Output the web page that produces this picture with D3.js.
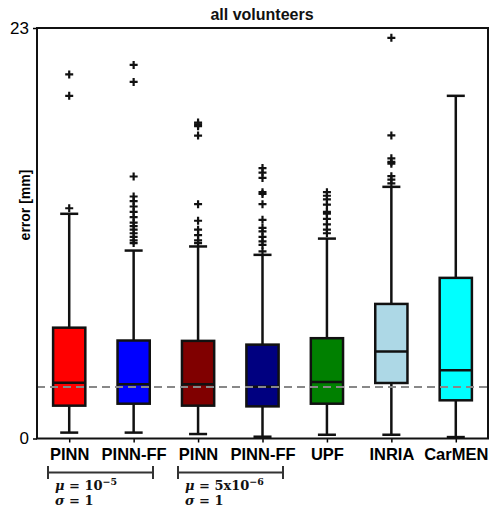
<!DOCTYPE html>
<html>
<head>
<meta charset="utf-8">
<script src="https://cdn.jsdelivr.net/npm/d3@7"></script>
<style>
  body { margin: 0; background: #fff; }
  svg { display: block; font-family: "Liberation Sans", Arial, sans-serif; }
</style>
</head>
<body>
<svg width="495" height="508"></svg>
<script>
const width = 495, height = 508;

// data (error in mm)
const labels = ["PINN", "PINN-FF", "PINN", "PINN-FF", "UPF", "INRIA", "CarMEN"];
const colors = ["#ff0000", "#0000ff", "#800000", "#000080", "#008000", "#add8e6", "#00ffff"];
const q1 = [1.84, 1.95, 1.84, 1.80, 1.95, 3.11, 2.14];
const medians = [3.13, 3.04, 3.04, 2.90, 3.17, 4.87, 3.82];
const q3 = [6.21, 5.49, 5.47, 5.26, 5.62, 7.54, 9.0];
const whiskerLow = [0.33, 0.33, 0.25, 0.10, 0.21, 0.21, 0.08];
const whiskerHigh = [12.59, 10.53, 10.76, 10.29, 11.2, 14.1, 19.2];
const outliers = [
    [12.9, 19.2, 20.4],
    [10.95, 11.1, 11.3, 11.5, 11.7, 11.9, 12.1, 12.4, 12.7, 13.0, 13.3, 13.56, 14.68, 19.98, 20.93],
    [10.95, 11.1, 11.4, 11.7, 12.2, 13.13, 16.97, 17.5, 17.6, 17.7],
    [10.48, 10.85, 11.04, 11.3, 11.6, 11.8, 12.25, 13.13, 13.7, 13.8, 14.6, 14.9, 15.15],
    [11.5, 11.7, 12.0, 12.3, 12.6, 12.7, 13.1, 13.4, 13.6, 13.8],
    [14.3, 14.5, 14.7, 15.4, 15.5, 15.7, 16.98, 22.45],
    []
];
const refLine = 2.89;
const yTicks = [0, 23];

const plot = {left: 37, right: 488, top: 28, bottom: 438.5};

const svg = d3.select("svg");

const x = d3.scaleLinear()
    .domain([0.5, labels.length + 0.5])
    .range([plot.left, plot.right]);
const y = d3.scaleLinear()
    .domain([0, 23])
    .range([plot.bottom, plot.top]);

const boxes = labels.map((l, i) => ({
    i: i + 1, label: l, color: colors[i],
    q1: q1[i], med: medians[i], q3: q3[i],
    lo: whiskerLow[i], hi: whiskerHigh[i], out: outliers[i]
}));

const boxW = 0.5;
const capW = 0.28;

// title
svg.append("text")
    .attr("x", 262)
    .attr("y", 20)
    .attr("text-anchor", "middle")
    .attr("font-size", "16px")
    .attr("font-weight", "bold")
    .attr("fill", "#111")
    .text("all volunteers");

// y axis
const yAxis = svg.append("g")
    .attr("transform", `translate(${plot.left},0)`)
    .call(d3.axisLeft(y).tickValues(yTicks).tickSize(4).tickPadding(4));
yAxis.select(".domain").remove();
yAxis.selectAll("line").attr("stroke", "#000").attr("stroke-width", 1.5);
yAxis.selectAll("text")
    .attr("font-size", "17px")
    .attr("font-family", "Liberation Sans, Arial, sans-serif")
    .attr("fill", "#000");

svg.append("text")
    .attr("transform", `translate(30,205) rotate(-90)`)
    .attr("text-anchor", "middle")
    .attr("font-size", "14px")
    .attr("font-weight", "bold")
    .text("error [mm]");

// x axis
const xAxis = svg.append("g")
    .attr("transform", `translate(0,${plot.bottom})`)
    .call(d3.axisBottom(x).tickValues(boxes.map(d => d.i)).tickFormat((d, i) => labels[i]).tickSize(4).tickPadding(6));
xAxis.select(".domain").remove();
xAxis.selectAll("line").attr("stroke", "#000").attr("stroke-width", 1.5);
xAxis.selectAll("text")
    .attr("font-size", "16.5px")
    .attr("font-weight", "bold")
    .attr("font-family", "Liberation Sans, Arial, sans-serif")
    .attr("fill", "#000");

// boxes
const g = svg.append("g");
const grp = g.selectAll("g.box")
    .data(boxes)
    .join("g")
    .attr("class", "box");

grp.append("line")
    .attr("x1", d => x(d.i)).attr("x2", d => x(d.i))
    .attr("y1", d => y(d.lo)).attr("y2", d => y(d.q1))
    .attr("stroke", "#111").attr("stroke-width", 2.5);
grp.append("line")
    .attr("x1", d => x(d.i)).attr("x2", d => x(d.i))
    .attr("y1", d => y(d.q3)).attr("y2", d => y(d.hi))
    .attr("stroke", "#111").attr("stroke-width", 2.5);
grp.append("line")
    .attr("x1", d => x(d.i - capW / 2)).attr("x2", d => x(d.i + capW / 2))
    .attr("y1", d => y(d.lo)).attr("y2", d => y(d.lo))
    .attr("stroke", "#111").attr("stroke-width", 2.5);
grp.append("line")
    .attr("x1", d => x(d.i - capW / 2)).attr("x2", d => x(d.i + capW / 2))
    .attr("y1", d => y(d.hi)).attr("y2", d => y(d.hi))
    .attr("stroke", "#111").attr("stroke-width", 2.5);

grp.append("rect")
    .attr("x", d => x(d.i - boxW / 2))
    .attr("width", d => x(d.i + boxW / 2) - x(d.i - boxW / 2))
    .attr("y", d => y(d.q3))
    .attr("height", d => y(d.q1) - y(d.q3))
    .attr("fill", d => d.color)
    .attr("stroke", "#111")
    .attr("stroke-width", 2.5);
grp.append("line")
    .attr("x1", d => x(d.i - boxW / 2)).attr("x2", d => x(d.i + boxW / 2))
    .attr("y1", d => y(d.med)).attr("y2", d => y(d.med))
    .attr("stroke", "#111").attr("stroke-width", 2.5);

// outlier markers
const plus = 4;
grp.selectAll("path.out")
    .data(d => d.out.map(v => ({i: d.i, v})))
    .join("path")
    .attr("class", "out")
    .attr("d", d => {
        const cx = x(d.i), cy = y(d.v);
        return `M${cx - plus},${cy}H${cx + plus}M${cx},${cy - plus}V${cy + plus}`;
    })
    .attr("stroke", "#111")
    .attr("stroke-width", 2.2);

// reference dashed line
svg.append("line")
    .attr("x1", plot.left).attr("x2", plot.right)
    .attr("y1", y(refLine)).attr("y2", y(refLine))
    .attr("stroke", "#888")
    .attr("stroke-width", 2)
    .attr("stroke-dasharray", "8,5");

// frame
svg.append("rect")
    .attr("x", plot.left).attr("y", plot.top)
    .attr("width", plot.right - plot.left)
    .attr("height", plot.bottom - plot.top)
    .attr("fill", "none")
    .attr("stroke", "#111")
    .attr("stroke-width", 2);

// group brackets under the axis
const groups = [
    {from: 48, to: 153, mu: "10", exp: "\u22125"},
    {from: 178, to: 283, mu: "5x10", exp: "\u22126"}
];
const br = svg.selectAll("g.bracket")
    .data(groups)
    .join("g")
    .attr("class", "bracket");
br.append("path")
    .attr("d", d => `M${d.from},466V479M${d.from},472.5H${d.to}M${d.to},466V479`)
    .attr("stroke", "#333")
    .attr("stroke-width", 2)
    .attr("fill", "none");

const mt = br.append("text")
    .attr("x", d => d.from + 7)
    .attr("y", 490)
    .attr("font-family", "DejaVu Serif, serif")
    .attr("font-size", "13px")
    .attr("font-weight", "bold")
    .attr("fill", "#111");
mt.append("tspan").attr("font-style", "italic").text("\u03bc");
mt.append("tspan").text(d => " = " + d.mu);
mt.append("tspan").attr("dy", -5).attr("font-size", "9.5px").text(d => d.exp);

const st = br.append("text")
    .attr("x", d => d.from + 7)
    .attr("y", 505)
    .attr("font-family", "DejaVu Serif, serif")
    .attr("font-size", "13px")
    .attr("font-weight", "bold")
    .attr("fill", "#111");
st.append("tspan").attr("font-style", "italic").text("\u03c3");
st.append("tspan").text(" = 1");
</script>
</body>
</html>
